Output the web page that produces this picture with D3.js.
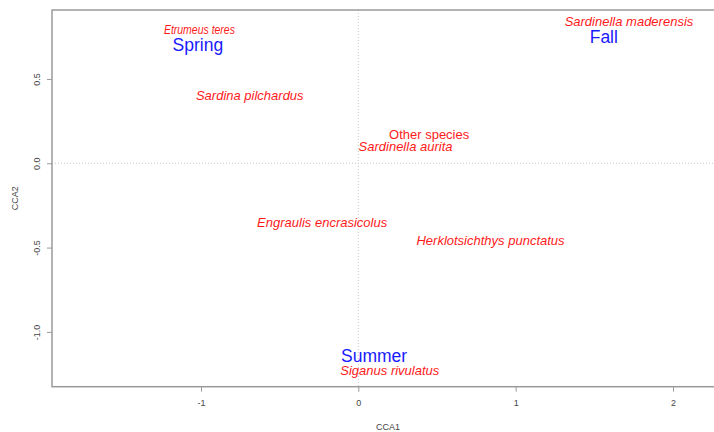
<!DOCTYPE html>
<html>
<head>
<meta charset="utf-8">
<script src="https://cdn.jsdelivr.net/npm/d3@7"></script>
<style>
  html, body { margin: 0; padding: 0; background: #fff; }
  svg { display: block; font-family: "Liberation Sans", Arial, Helvetica, sans-serif; }
</style>
</head>
<body>
<svg id="chart" width="714" height="432"></svg>
<script>
// CCA ordination scores: species (red) and seasons (blue)
const speciesNames = ["Etrumeus teres", "Sardina pilchardus", "Other species", "Sardinella aurita",
  "Sardinella maderensis", "Engraulis encrasicolus", "Herklotsichthys punctatus", "Siganus rivulatus"];
const speciesCCA1 = [-1.01, -0.69, 0.45, 0.30, 1.72, -0.23, 0.84, 0.20];
const speciesCCA2 = [0.79, 0.40, 0.17, 0.10, 0.84, -0.35, -0.46, -1.23];
const speciesItalic = [true, true, false, true, true, true, true, true];

const seasonNames = ["Spring", "Fall", "Summer"];
const seasonCCA1 = [-1.02, 1.56, 0.10];
const seasonCCA2 = [0.70, 0.75, -1.14];

const xTicks = [-1, 0, 1, 2];
const yTicks = [-1.0, -0.5, 0.0, 0.5];
const xDomain = [-1.947, 2.324];
const yDomain = [-1.325, 0.909];

const svg = d3.select("#chart");
const plot = { left: 52, top: 10, right: 724, bottom: 386.7 };

const x = d3.scaleLinear().domain(xDomain).range([plot.left, plot.right]);
const y = d3.scaleLinear().domain(yDomain).range([plot.bottom, plot.top]);

const axisColor = "#9a9a9a";
const labelColor = "#444";

// reference lines through the origin
svg.append("line")
  .attr("x1", x(0)).attr("x2", x(0))
  .attr("y1", plot.top).attr("y2", plot.bottom)
  .attr("stroke", "#c8c8c8").attr("stroke-width", 1).attr("stroke-dasharray", "1,2");
svg.append("line")
  .attr("x1", plot.left).attr("x2", plot.right)
  .attr("y1", y(0)).attr("y2", y(0))
  .attr("stroke", "#c8c8c8").attr("stroke-width", 1).attr("stroke-dasharray", "1,2");

// plot frame
svg.append("rect")
  .attr("x", plot.left).attr("y", plot.top)
  .attr("width", plot.right - plot.left).attr("height", plot.bottom - plot.top)
  .attr("fill", "none").attr("stroke", axisColor).attr("stroke-width", 1.5);

// axes
const xAxis = d3.axisBottom(x).tickValues(xTicks).tickSize(5).tickPadding(8)
  .tickFormat(d => d < 0 ? "-" + Math.abs(d) : String(d));
const gx = svg.append("g").attr("transform", `translate(0,${plot.bottom})`).call(xAxis);
gx.select(".domain").remove();
gx.selectAll("line").attr("stroke", axisColor);
gx.selectAll("text").attr("fill", labelColor).attr("font-size", 9)
  .attr("font-family", "Liberation Sans, Arial, sans-serif");

const yAxis = d3.axisLeft(y).tickValues(yTicks).tickSize(5).tickPadding(0)
  .tickFormat(d => (d < 0 ? "-" : "") + Math.abs(d).toFixed(1));
const gy = svg.append("g").attr("transform", `translate(${plot.left},0)`).call(yAxis);
gy.select(".domain").remove();
gy.selectAll("line").attr("stroke", axisColor);
gy.selectAll("text")
  .attr("fill", labelColor).attr("font-size", 9)
  .attr("font-family", "Liberation Sans, Arial, sans-serif")
  .attr("text-anchor", "middle").attr("dy", null)
  .attr("x", null)
  .attr("transform", "translate(-15,0) rotate(-90)")
  .attr("dominant-baseline", "central");

// axis titles
svg.append("text")
  .attr("x", (plot.left + plot.right) / 2).attr("y", 430)
  .attr("text-anchor", "middle").attr("font-size", 9).attr("fill", labelColor)
  .text("CCA1");
svg.append("text")
  .attr("transform", `translate(18,${(plot.top + plot.bottom) / 2}) rotate(-90)`)
  .attr("text-anchor", "middle").attr("font-size", 9).attr("fill", labelColor)
  .text("CCA2");

// species scores
const species = speciesNames.map((n, i) => ({ name: n, cx: speciesCCA1[i], cy: speciesCCA2[i], it: speciesItalic[i] }));
svg.append("g").selectAll("text").data(species).join("text")
  .attr("x", d => x(d.cx)).attr("y", d => y(d.cy))
  .attr("text-anchor", "middle").attr("dominant-baseline", "central")
  .attr("font-size", d => d.name === "Etrumeus teres" ? 12 : 13)
  .attr("font-style", d => d.it ? "italic" : "normal")
  .attr("fill", "#ff1a1a")
  .each(function (d) {
    if (d.name === "Etrumeus teres") {
      d3.select(this).attr("textLength", 71).attr("lengthAdjust", "spacingAndGlyphs");
    }
  })
  .text(d => d.name);

// season centroids
const seasons = seasonNames.map((n, i) => ({ name: n, cx: seasonCCA1[i], cy: seasonCCA2[i] }));
svg.append("g").selectAll("text").data(seasons).join("text")
  .attr("x", d => x(d.cx)).attr("y", d => y(d.cy))
  .attr("text-anchor", "middle").attr("dominant-baseline", "central")
  .attr("font-size", 17.5)
  .attr("fill", "#1a1aff")
  .text(d => d.name);
</script>
</body>
</html>
